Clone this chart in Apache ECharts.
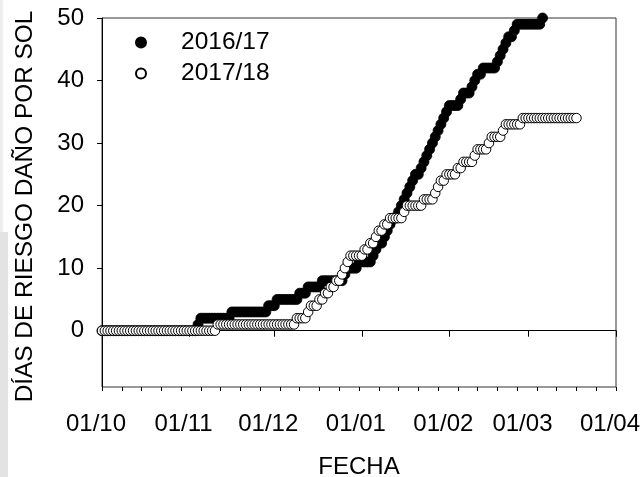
<!DOCTYPE html>
<html>
<head>
<meta charset="utf-8">
<script src="https://cdn.jsdelivr.net/npm/echarts@6/dist/echarts.min.js"></script>
<style>
html,body{margin:0;padding:0;background:#fff;}
#chart{width:642px;height:477px;}
</style>
</head>
<body>
<div id="chart"></div>
<script>
// Cumulative "días de riesgo" per day, index = days since 1 October
var season1Name = '2016/17';
var season1Values = [
  0,0,0,0,0,0,0,0,0,0,
  0,0,0,0,0,0,0,0,0,0,
  0,0,0,0,0,0,0,0,0,0,
  0,0,0,0,1,2,2,2,2,2,
  2,2,2,2,2,2,3,3,3,3,
  3,3,3,3,3,3,3,3,3,4,
  4,4,5,5,5,5,5,5,5,5,
  6,6,6,7,7,7,7,7,8,8,
  8,8,8,8,8,8,9,10,10,10,
  10,11,11,11,11,11,12,13,14,14,
  15,16,17,18,18,19,20,21,22,23,
  24,25,25,26,27,28,29,30,31,32,
  33,34,35,36,36,36,36,37,38,38,
  38,39,40,41,41,42,42,42,42,42,
  43,44,45,46,47,47,48,49,49,49,
  49,49,49,49,49,49,50
];
var season2Name = '2017/18';
var season2Values = [
  0,0,0,0,0,0,0,0,0,0,
  0,0,0,0,0,0,0,0,0,0,
  0,0,0,0,0,0,0,0,0,0,
  0,0,0,0,0,0,0,0,0,0,
  0,1,1,1,1,1,1,1,1,1,
  1,1,1,1,1,1,1,1,1,1,
  1,1,1,1,1,1,1,1,1,2,
  2,2,2,3,4,4,4,5,5,6,
  6,7,7,8,8,9,10,11,12,12,
  12,12,12,13,13,14,14,15,16,16,
  17,17,18,18,18,18,18,19,20,20,
  20,20,20,20,21,21,21,21,22,23,
  24,24,25,25,25,25,26,26,27,27,
  27,27,28,29,29,29,29,30,31,31,
  31,31,32,33,33,33,33,33,33,34,
  34,34,34,34,34,34,34,34,34,34,
  34,34,34,34,34,34,34,34,34
];
var yTickValues = [0, 10, 20, 30, 40, 50];
var xAxisTitle = 'FECHA';
var yAxisTitle = 'DÍAS DE RIESGO DAÑO POR SOL';

var FONT = '"Liberation Sans", Arial, Helvetica, sans-serif';
var DAY = 24 * 3600 * 1000;
function seasonDate(dayIndex) { return new Date(2016, 9, 1 + dayIndex).getTime(); }
function toPairs(values) { return values.map(function (v, i) { return [seasonDate(i), v]; }); }

var chart = echarts.init(document.getElementById('chart'), null, { renderer: 'canvas' });
chart.setOption({
  animation: false,
  backgroundColor: '#ffffff',
  textStyle: { fontFamily: FONT, color: '#000' },
  grid: { left: 102, right: 26, top: 18, bottom: 90, outerBoundsMode: 'none', containLabel: false, show: true, borderColor: '#333', borderWidth: 1, backgroundColor: 'transparent' },
  graphic: [
    { type: 'rect', left: 0, top: 232, shape: { width: 8, height: 245 }, style: { fill: '#e3e3e3' }, silent: true, z: -10 },
    { type: 'rect', left: 0, top: 0, shape: { width: 3, height: 232 }, style: { fill: '#eeeeee' }, silent: true, z: -10 }
  ],
  legend: {
    orient: 'vertical', left: 135, top: 30, padding: 0,
    itemWidth: 70, itemHeight: 10, itemGap: 6,
    icon: 'circle',
    textStyle: { fontFamily: FONT, fontSize: 24.5, color: '#000', lineHeight: 23 },
    data: [season1Name, season2Name]
  },
  xAxis: [
    {
      type: 'time', position: 'bottom',
      min: seasonDate(0), max: new Date(2017, 3, 1).getTime(),
      splitNumber: 6, minInterval: 28 * DAY, maxInterval: 31 * DAY,
      axisLine: { show: true, lineStyle: { color: '#000', width: 1 } },
      axisTick: { show: true, inside: false, length: 6, lineStyle: { color: '#000' } },
      axisLabel: { fontFamily: FONT, fontSize: 24, color: '#000', margin: 25, padding: [0, 12, 0, 0], formatter: '{dd}/{MM}', showMinLabel: true, showMaxLabel: true, hideOverlap: false },
      splitLine: { show: false },
      name: xAxisTitle, nameLocation: 'middle', nameGap: 68,
      nameTextStyle: { fontFamily: FONT, fontSize: 24, color: '#000' }
    },
    {
      type: 'value', position: 'bottom', min: 0, max: 182, interval: 7,
      axisLine: { show: false },
      axisTick: { show: true, inside: false, length: 4, lineStyle: { color: '#000' } },
      axisLabel: { show: false },
      splitLine: { show: false }
    }
  ],
  yAxis: {
    type: 'value', min: -9, max: 50,
    axisLine: { show: true, lineStyle: { color: '#000', width: 1 } },
    axisTick: { show: true, inside: false, length: 5, lineStyle: { color: '#000' }, customValues: yTickValues },
    axisLabel: { fontFamily: FONT, fontSize: 24, color: '#000', margin: 18, customValues: yTickValues },
    splitLine: { show: false },
    name: yAxisTitle, nameLocation: 'middle', nameGap: 65,
    nameTextStyle: { fontFamily: FONT, fontSize: 24.4, color: '#000', padding: [0, 8, 0, 0] }
  },
  series: [
    {
      name: season1Name, type: 'scatter', xAxisIndex: 0, symbol: 'circle', symbolSize: 10,
      itemStyle: { color: '#000', borderColor: '#000', borderWidth: 0.8, opacity: 1 },
      data: toPairs(season1Values)
    },
    {
      name: season2Name, type: 'scatter', xAxisIndex: 0, symbol: 'circle', symbolSize: 9.5,
      itemStyle: { color: '#fff', borderColor: '#000', borderWidth: 1, opacity: 1 },
      data: toPairs(season2Values)
    }
  ]
});
</script>
</body>
</html>
